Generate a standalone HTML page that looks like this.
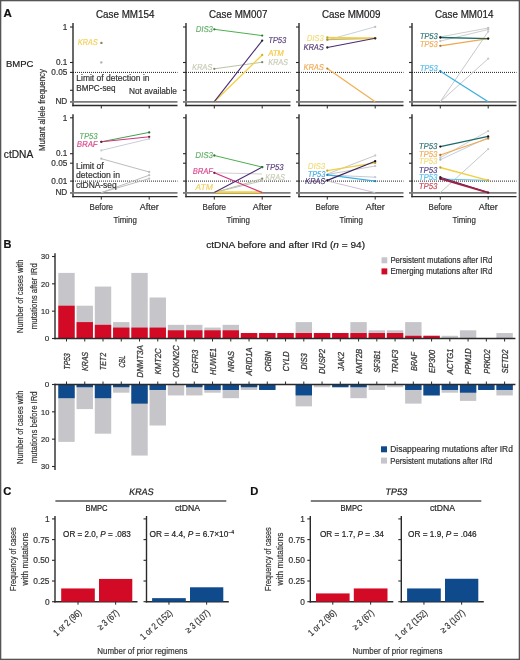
<!DOCTYPE html>
<html><head><meta charset="utf-8">
<style>
html,body{margin:0;padding:0;background:#fff;}
body{width:520px;height:660px;overflow:hidden;position:relative;}
svg{position:absolute;left:0;top:0;font-family:"Liberation Sans",sans-serif;filter:blur(0.35px);}
</style></head><body>
<svg width="520" height="660" viewBox="0 0 520 660">
<rect x="0" y="0" width="520" height="660" fill="#fff"/>
<text x="3.5" y="16.6" font-size="11.5" fill="#111" stroke="#111" stroke-width="0.2" font-weight="bold" >A</text>
<text x="125.2" y="17.5" font-size="10.5" fill="#222" stroke="#222" stroke-width="0.2" text-anchor="middle" textLength="58.5" lengthAdjust="spacingAndGlyphs" >Case MM154</text>
<line x1="73" y1="23" x2="73" y2="106.2" stroke="#2a2a2a" stroke-width="1.4" />
<line x1="70" y1="27" x2="73" y2="27" stroke="#2a2a2a" stroke-width="1.1" />
<line x1="70" y1="62.5" x2="73" y2="62.5" stroke="#2a2a2a" stroke-width="1.1" />
<line x1="70" y1="72.4" x2="73" y2="72.4" stroke="#2a2a2a" stroke-width="1.1" />
<line x1="70" y1="90.3" x2="73" y2="90.3" stroke="#2a2a2a" stroke-width="1.1" />
<line x1="70" y1="101.7" x2="73" y2="101.7" stroke="#2a2a2a" stroke-width="1.1" />
<line x1="73" y1="72.4" x2="177.5" y2="72.4" stroke="#222" stroke-width="1" stroke-dasharray="1 1"/>
<line x1="70" y1="101.9" x2="177.5" y2="101.9" stroke="#7c7c7c" stroke-width="1.6" />
<line x1="72.3" y1="105.5" x2="177.5" y2="105.5" stroke="#2a2a2a" stroke-width="1.4" />
<line x1="101.3" y1="105.5" x2="101.3" y2="108.5" stroke="#2a2a2a" stroke-width="1" />
<line x1="149.2" y1="105.5" x2="149.2" y2="108.5" stroke="#2a2a2a" stroke-width="1" />
<text x="67.3" y="29.7" font-size="8.21" fill="#333" stroke="#333" stroke-width="0.2" text-anchor="end" >1</text>
<text x="67.3" y="65.2" font-size="8.21" fill="#333" stroke="#333" stroke-width="0.2" text-anchor="end" >0.1</text>
<text x="67.3" y="75.10000000000001" font-size="8.21" fill="#333" stroke="#333" stroke-width="0.2" text-anchor="end" >0.05</text>
<text x="67.3" y="104.4" font-size="8.21" fill="#333" stroke="#333" stroke-width="0.2" text-anchor="end" >ND</text>
<line x1="73" y1="114.2" x2="73" y2="197.29999999999998" stroke="#2a2a2a" stroke-width="1.4" />
<line x1="70" y1="117.8" x2="73" y2="117.8" stroke="#2a2a2a" stroke-width="1.1" />
<line x1="70" y1="153.7" x2="73" y2="153.7" stroke="#2a2a2a" stroke-width="1.1" />
<line x1="70" y1="163.2" x2="73" y2="163.2" stroke="#2a2a2a" stroke-width="1.1" />
<line x1="70" y1="181.1" x2="73" y2="181.1" stroke="#2a2a2a" stroke-width="1.1" />
<line x1="70" y1="192.7" x2="73" y2="192.7" stroke="#2a2a2a" stroke-width="1.1" />
<line x1="73" y1="181.1" x2="177.5" y2="181.1" stroke="#222" stroke-width="1" stroke-dasharray="1 1"/>
<line x1="70" y1="192.89999999999998" x2="177.5" y2="192.89999999999998" stroke="#7c7c7c" stroke-width="1.6" />
<line x1="72.3" y1="196.6" x2="177.5" y2="196.6" stroke="#2a2a2a" stroke-width="1.4" />
<line x1="101.3" y1="196.6" x2="101.3" y2="199.6" stroke="#2a2a2a" stroke-width="1" />
<line x1="149.2" y1="196.6" x2="149.2" y2="199.6" stroke="#2a2a2a" stroke-width="1" />
<text x="67.3" y="120.5" font-size="8.21" fill="#333" stroke="#333" stroke-width="0.2" text-anchor="end" >1</text>
<text x="67.3" y="156.39999999999998" font-size="8.21" fill="#333" stroke="#333" stroke-width="0.2" text-anchor="end" >0.1</text>
<text x="67.3" y="165.89999999999998" font-size="8.21" fill="#333" stroke="#333" stroke-width="0.2" text-anchor="end" >0.05</text>
<text x="67.3" y="183.79999999999998" font-size="8.21" fill="#333" stroke="#333" stroke-width="0.2" text-anchor="end" >0.01</text>
<text x="67.3" y="195.39999999999998" font-size="8.21" fill="#333" stroke="#333" stroke-width="0.2" text-anchor="end" >ND</text>
<text x="101.3" y="209.7" font-size="8.19" fill="#333" stroke="#333" stroke-width="0.2" text-anchor="middle" textLength="23.4" lengthAdjust="spacingAndGlyphs" >Before</text>
<text x="149.2" y="209.7" font-size="8.19" fill="#333" stroke="#333" stroke-width="0.2" text-anchor="middle" textLength="19" lengthAdjust="spacingAndGlyphs" >After</text>
<text x="125.2" y="222.8" font-size="9.03" fill="#333" stroke="#333" stroke-width="0.2" text-anchor="middle" textLength="23.4" lengthAdjust="spacingAndGlyphs" >Timing</text>
<text x="238.2" y="17.5" font-size="10.5" fill="#222" stroke="#222" stroke-width="0.2" text-anchor="middle" textLength="58.5" lengthAdjust="spacingAndGlyphs" >Case MM007</text>
<line x1="186" y1="23" x2="186" y2="106.2" stroke="#2a2a2a" stroke-width="1.4" />
<line x1="183" y1="27" x2="186" y2="27" stroke="#2a2a2a" stroke-width="1.1" />
<line x1="183" y1="62.5" x2="186" y2="62.5" stroke="#2a2a2a" stroke-width="1.1" />
<line x1="183" y1="72.4" x2="186" y2="72.4" stroke="#2a2a2a" stroke-width="1.1" />
<line x1="183" y1="90.3" x2="186" y2="90.3" stroke="#2a2a2a" stroke-width="1.1" />
<line x1="183" y1="101.7" x2="186" y2="101.7" stroke="#2a2a2a" stroke-width="1.1" />
<line x1="186" y1="72.4" x2="290.5" y2="72.4" stroke="#222" stroke-width="1" stroke-dasharray="1 1"/>
<line x1="183" y1="101.9" x2="290.5" y2="101.9" stroke="#7c7c7c" stroke-width="1.6" />
<line x1="185.3" y1="105.5" x2="290.5" y2="105.5" stroke="#2a2a2a" stroke-width="1.4" />
<line x1="214.3" y1="105.5" x2="214.3" y2="108.5" stroke="#2a2a2a" stroke-width="1" />
<line x1="262.2" y1="105.5" x2="262.2" y2="108.5" stroke="#2a2a2a" stroke-width="1" />
<line x1="186" y1="114.2" x2="186" y2="197.29999999999998" stroke="#2a2a2a" stroke-width="1.4" />
<line x1="183" y1="117.8" x2="186" y2="117.8" stroke="#2a2a2a" stroke-width="1.1" />
<line x1="183" y1="153.7" x2="186" y2="153.7" stroke="#2a2a2a" stroke-width="1.1" />
<line x1="183" y1="163.2" x2="186" y2="163.2" stroke="#2a2a2a" stroke-width="1.1" />
<line x1="183" y1="181.1" x2="186" y2="181.1" stroke="#2a2a2a" stroke-width="1.1" />
<line x1="183" y1="192.7" x2="186" y2="192.7" stroke="#2a2a2a" stroke-width="1.1" />
<line x1="186" y1="181.1" x2="290.5" y2="181.1" stroke="#222" stroke-width="1" stroke-dasharray="1 1"/>
<line x1="183" y1="192.89999999999998" x2="290.5" y2="192.89999999999998" stroke="#7c7c7c" stroke-width="1.6" />
<line x1="185.3" y1="196.6" x2="290.5" y2="196.6" stroke="#2a2a2a" stroke-width="1.4" />
<line x1="214.3" y1="196.6" x2="214.3" y2="199.6" stroke="#2a2a2a" stroke-width="1" />
<line x1="262.2" y1="196.6" x2="262.2" y2="199.6" stroke="#2a2a2a" stroke-width="1" />
<text x="214.3" y="209.7" font-size="8.19" fill="#333" stroke="#333" stroke-width="0.2" text-anchor="middle" textLength="23.4" lengthAdjust="spacingAndGlyphs" >Before</text>
<text x="262.2" y="209.7" font-size="8.19" fill="#333" stroke="#333" stroke-width="0.2" text-anchor="middle" textLength="19" lengthAdjust="spacingAndGlyphs" >After</text>
<text x="238.2" y="222.8" font-size="9.03" fill="#333" stroke="#333" stroke-width="0.2" text-anchor="middle" textLength="23.4" lengthAdjust="spacingAndGlyphs" >Timing</text>
<text x="351.2" y="17.5" font-size="10.5" fill="#222" stroke="#222" stroke-width="0.2" text-anchor="middle" textLength="58.5" lengthAdjust="spacingAndGlyphs" >Case MM009</text>
<line x1="299" y1="23" x2="299" y2="106.2" stroke="#2a2a2a" stroke-width="1.4" />
<line x1="296" y1="27" x2="299" y2="27" stroke="#2a2a2a" stroke-width="1.1" />
<line x1="296" y1="62.5" x2="299" y2="62.5" stroke="#2a2a2a" stroke-width="1.1" />
<line x1="296" y1="72.4" x2="299" y2="72.4" stroke="#2a2a2a" stroke-width="1.1" />
<line x1="296" y1="90.3" x2="299" y2="90.3" stroke="#2a2a2a" stroke-width="1.1" />
<line x1="296" y1="101.7" x2="299" y2="101.7" stroke="#2a2a2a" stroke-width="1.1" />
<line x1="299" y1="72.4" x2="403.5" y2="72.4" stroke="#222" stroke-width="1" stroke-dasharray="1 1"/>
<line x1="296" y1="101.9" x2="403.5" y2="101.9" stroke="#7c7c7c" stroke-width="1.6" />
<line x1="298.3" y1="105.5" x2="403.5" y2="105.5" stroke="#2a2a2a" stroke-width="1.4" />
<line x1="327.3" y1="105.5" x2="327.3" y2="108.5" stroke="#2a2a2a" stroke-width="1" />
<line x1="375.2" y1="105.5" x2="375.2" y2="108.5" stroke="#2a2a2a" stroke-width="1" />
<line x1="299" y1="114.2" x2="299" y2="197.29999999999998" stroke="#2a2a2a" stroke-width="1.4" />
<line x1="296" y1="117.8" x2="299" y2="117.8" stroke="#2a2a2a" stroke-width="1.1" />
<line x1="296" y1="153.7" x2="299" y2="153.7" stroke="#2a2a2a" stroke-width="1.1" />
<line x1="296" y1="163.2" x2="299" y2="163.2" stroke="#2a2a2a" stroke-width="1.1" />
<line x1="296" y1="181.1" x2="299" y2="181.1" stroke="#2a2a2a" stroke-width="1.1" />
<line x1="296" y1="192.7" x2="299" y2="192.7" stroke="#2a2a2a" stroke-width="1.1" />
<line x1="299" y1="181.1" x2="403.5" y2="181.1" stroke="#222" stroke-width="1" stroke-dasharray="1 1"/>
<line x1="296" y1="192.89999999999998" x2="403.5" y2="192.89999999999998" stroke="#7c7c7c" stroke-width="1.6" />
<line x1="298.3" y1="196.6" x2="403.5" y2="196.6" stroke="#2a2a2a" stroke-width="1.4" />
<line x1="327.3" y1="196.6" x2="327.3" y2="199.6" stroke="#2a2a2a" stroke-width="1" />
<line x1="375.2" y1="196.6" x2="375.2" y2="199.6" stroke="#2a2a2a" stroke-width="1" />
<text x="327.3" y="209.7" font-size="8.19" fill="#333" stroke="#333" stroke-width="0.2" text-anchor="middle" textLength="23.4" lengthAdjust="spacingAndGlyphs" >Before</text>
<text x="375.2" y="209.7" font-size="8.19" fill="#333" stroke="#333" stroke-width="0.2" text-anchor="middle" textLength="19" lengthAdjust="spacingAndGlyphs" >After</text>
<text x="351.2" y="222.8" font-size="9.03" fill="#333" stroke="#333" stroke-width="0.2" text-anchor="middle" textLength="23.4" lengthAdjust="spacingAndGlyphs" >Timing</text>
<text x="464.2" y="17.5" font-size="10.5" fill="#222" stroke="#222" stroke-width="0.2" text-anchor="middle" textLength="58.5" lengthAdjust="spacingAndGlyphs" >Case MM014</text>
<line x1="412" y1="23" x2="412" y2="106.2" stroke="#2a2a2a" stroke-width="1.4" />
<line x1="409" y1="27" x2="412" y2="27" stroke="#2a2a2a" stroke-width="1.1" />
<line x1="409" y1="62.5" x2="412" y2="62.5" stroke="#2a2a2a" stroke-width="1.1" />
<line x1="409" y1="72.4" x2="412" y2="72.4" stroke="#2a2a2a" stroke-width="1.1" />
<line x1="409" y1="90.3" x2="412" y2="90.3" stroke="#2a2a2a" stroke-width="1.1" />
<line x1="409" y1="101.7" x2="412" y2="101.7" stroke="#2a2a2a" stroke-width="1.1" />
<line x1="412" y1="72.4" x2="516.5" y2="72.4" stroke="#222" stroke-width="1" stroke-dasharray="1 1"/>
<line x1="409" y1="101.9" x2="516.5" y2="101.9" stroke="#7c7c7c" stroke-width="1.6" />
<line x1="411.3" y1="105.5" x2="516.5" y2="105.5" stroke="#2a2a2a" stroke-width="1.4" />
<line x1="440.3" y1="105.5" x2="440.3" y2="108.5" stroke="#2a2a2a" stroke-width="1" />
<line x1="488.2" y1="105.5" x2="488.2" y2="108.5" stroke="#2a2a2a" stroke-width="1" />
<line x1="412" y1="114.2" x2="412" y2="197.29999999999998" stroke="#2a2a2a" stroke-width="1.4" />
<line x1="409" y1="117.8" x2="412" y2="117.8" stroke="#2a2a2a" stroke-width="1.1" />
<line x1="409" y1="153.7" x2="412" y2="153.7" stroke="#2a2a2a" stroke-width="1.1" />
<line x1="409" y1="163.2" x2="412" y2="163.2" stroke="#2a2a2a" stroke-width="1.1" />
<line x1="409" y1="181.1" x2="412" y2="181.1" stroke="#2a2a2a" stroke-width="1.1" />
<line x1="409" y1="192.7" x2="412" y2="192.7" stroke="#2a2a2a" stroke-width="1.1" />
<line x1="412" y1="181.1" x2="516.5" y2="181.1" stroke="#222" stroke-width="1" stroke-dasharray="1 1"/>
<line x1="409" y1="192.89999999999998" x2="516.5" y2="192.89999999999998" stroke="#7c7c7c" stroke-width="1.6" />
<line x1="411.3" y1="196.6" x2="516.5" y2="196.6" stroke="#2a2a2a" stroke-width="1.4" />
<line x1="440.3" y1="196.6" x2="440.3" y2="199.6" stroke="#2a2a2a" stroke-width="1" />
<line x1="488.2" y1="196.6" x2="488.2" y2="199.6" stroke="#2a2a2a" stroke-width="1" />
<text x="440.3" y="209.7" font-size="8.19" fill="#333" stroke="#333" stroke-width="0.2" text-anchor="middle" textLength="23.4" lengthAdjust="spacingAndGlyphs" >Before</text>
<text x="488.2" y="209.7" font-size="8.19" fill="#333" stroke="#333" stroke-width="0.2" text-anchor="middle" textLength="19" lengthAdjust="spacingAndGlyphs" >After</text>
<text x="464.2" y="222.8" font-size="9.03" fill="#333" stroke="#333" stroke-width="0.2" text-anchor="middle" textLength="23.4" lengthAdjust="spacingAndGlyphs" >Timing</text>
<text x="6" y="66.9" font-size="9.87" fill="#222" stroke="#222" stroke-width="0.2" textLength="27.5" lengthAdjust="spacingAndGlyphs" >BMPC</text>
<text x="3.8" y="158.1" font-size="10.29" fill="#222" stroke="#222" stroke-width="0.2" textLength="29.4" lengthAdjust="spacingAndGlyphs" >ctDNA</text>
<text x="44.6" y="110" font-size="9.24" fill="#333" stroke="#333" stroke-width="0.2" text-anchor="middle" textLength="82" lengthAdjust="spacingAndGlyphs" transform="rotate(-90 44.6 110)" >Mutant allele frequency</text>
<circle cx="101.39999999999999" cy="42.9" r="1.2" fill="#8d8360"/>
<circle cx="101.3" cy="62.4" r="1.2" fill="#b0b0b0"/>
<text x="97.3" y="44.8" font-size="8.51" fill="#f2cf55" stroke="#f2cf55" stroke-width="0.15" text-anchor="end" textLength="19.8" lengthAdjust="spacingAndGlyphs" transform="translate(97.3 44.8) skewX(-9) translate(-97.3 -44.8)" >KRAS</text>
<text x="76.3" y="81.3" font-size="8.72" fill="#333" stroke="#333" stroke-width="0.2" textLength="73.2" lengthAdjust="spacingAndGlyphs" >Limit of detection in</text>
<text x="76.3" y="90.6" font-size="8.72" fill="#333" stroke="#333" stroke-width="0.2" textLength="39.2" lengthAdjust="spacingAndGlyphs" >BMPC-seq</text>
<text x="176.9" y="94" font-size="8.72" fill="#333" stroke="#333" stroke-width="0.2" text-anchor="end" textLength="47.9" lengthAdjust="spacingAndGlyphs" >Not available</text>
<line x1="101.3" y1="150.4" x2="149.2" y2="138.8" stroke="#c9ced6" stroke-width="1.0" />
<circle cx="101.3" cy="150.4" r="1.15" fill="#c9ced6"/>
<circle cx="149.2" cy="138.8" r="1.15" fill="#c9ced6"/>
<line x1="101.3" y1="158.7" x2="149.2" y2="172" stroke="#bdbdbd" stroke-width="1.0" />
<circle cx="101.3" cy="158.7" r="1.15" fill="#bdbdbd"/>
<circle cx="149.2" cy="172" r="1.15" fill="#bdbdbd"/>
<line x1="101.3" y1="192.6" x2="149.2" y2="175.2" stroke="#bdbdbd" stroke-width="1.0" />
<circle cx="149.2" cy="175.2" r="1.15" fill="#bdbdbd"/>
<line x1="101.3" y1="192.6" x2="149.2" y2="178.6" stroke="#bdbdbd" stroke-width="1.0" />
<circle cx="149.2" cy="178.6" r="1.15" fill="#bdbdbd"/>
<line x1="101.3" y1="141.8" x2="149.2" y2="132.4" stroke="#3fa34d" stroke-width="1.0" />
<circle cx="101.3" cy="141.8" r="1.15" fill="#1e6b2a"/>
<circle cx="149.2" cy="132.4" r="1.15" fill="#1e6b2a"/>
<line x1="101.3" y1="141.8" x2="149.2" y2="136.8" stroke="#d6307a" stroke-width="1.0" />
<circle cx="101.3" cy="141.8" r="1.15" fill="#7a1a40"/>
<circle cx="149.2" cy="136.8" r="1.15" fill="#7a1a40"/>
<text x="97.3" y="139.2" font-size="8.51" fill="#5aad5e" stroke="#5aad5e" stroke-width="0.15" text-anchor="end" textLength="18.3" lengthAdjust="spacingAndGlyphs" transform="translate(97.3 139.2) skewX(-9) translate(-97.3 -139.2)" >TP53</text>
<text x="97.3" y="146.6" font-size="8.51" fill="#d8408a" stroke="#d8408a" stroke-width="0.15" text-anchor="end" textLength="20.7" lengthAdjust="spacingAndGlyphs" transform="translate(97.3 146.6) skewX(-9) translate(-97.3 -146.6)" >BRAF</text>
<text x="76" y="168.6" font-size="8.72" fill="#333" stroke="#333" stroke-width="0.2" textLength="27.7" lengthAdjust="spacingAndGlyphs" >Limit of</text>
<text x="76" y="177.8" font-size="8.72" fill="#333" stroke="#333" stroke-width="0.2" textLength="44" lengthAdjust="spacingAndGlyphs" >detection in</text>
<text x="76" y="188.1" font-size="8.72" fill="#333" stroke="#333" stroke-width="0.2" textLength="40.7" lengthAdjust="spacingAndGlyphs" >ctDNA-seq</text>
<line x1="214.3" y1="68.8" x2="262.2" y2="62.2" stroke="#b9c2a4" stroke-width="1.0" />
<circle cx="214.3" cy="68.8" r="1.15" fill="#7d8a6a"/>
<circle cx="262.2" cy="62.2" r="1.15" fill="#7d8a6a"/>
<line x1="214.3" y1="101.7" x2="262.2" y2="55" stroke="#f4cf3a" stroke-width="1.2" />
<circle cx="262.2" cy="55" r="1.15" fill="#d8b020"/>
<line x1="214.3" y1="101.7" x2="262.2" y2="40.6" stroke="#4a2c72" stroke-width="1.1" />
<circle cx="262.2" cy="40.6" r="1.15" fill="#222"/>
<line x1="214.3" y1="29.3" x2="262.2" y2="35.6" stroke="#4caf50" stroke-width="1.0" />
<circle cx="214.3" cy="29.3" r="1.15" fill="#2a7a30"/>
<circle cx="262.2" cy="35.6" r="1.15" fill="#2a7a30"/>
<text x="212.5" y="31.8" font-size="8.51" fill="#62ad66" stroke="#62ad66" stroke-width="0.15" text-anchor="end" textLength="17" lengthAdjust="spacingAndGlyphs" transform="translate(212.5 31.8) skewX(-9) translate(-212.5 -31.8)" >DIS3</text>
<text x="212" y="70.2" font-size="8.51" fill="#c6cbb4" stroke="#c6cbb4" stroke-width="0.15" text-anchor="end" textLength="20.2" lengthAdjust="spacingAndGlyphs" transform="translate(212 70.2) skewX(-9) translate(-212 -70.2)" >KRAS</text>
<text x="267.9" y="43.4" font-size="8.51" fill="#553a78" stroke="#553a78" stroke-width="0.15" textLength="18.2" lengthAdjust="spacingAndGlyphs" transform="translate(267.9 43.4) skewX(-9) translate(-267.9 -43.4)" >TP53</text>
<text x="267.9" y="56.5" font-size="8.51" fill="#f2c83a" stroke="#f2c83a" stroke-width="0.15" textLength="15.5" lengthAdjust="spacingAndGlyphs" transform="translate(267.9 56.5) skewX(-9) translate(-267.9 -56.5)" >ATM</text>
<text x="267.9" y="64.8" font-size="8.51" fill="#c6cbb4" stroke="#c6cbb4" stroke-width="0.15" textLength="19.6" lengthAdjust="spacingAndGlyphs" transform="translate(267.9 64.8) skewX(-9) translate(-267.9 -64.8)" >KRAS</text>
<line x1="214.3" y1="172.8" x2="262.2" y2="174" stroke="#cfcfcf" stroke-width="1.0" />
<circle cx="214.3" cy="172.8" r="1.15" fill="#cfcfcf"/>
<line x1="214.3" y1="192.6" x2="262.2" y2="180.8" stroke="#c0c0c0" stroke-width="1.0" />
<circle cx="262.2" cy="180.8" r="1.15" fill="#c0c0c0"/>
<line x1="214.3" y1="192.6" x2="262.2" y2="178.7" stroke="#b9c2a4" stroke-width="1.0" />
<circle cx="262.2" cy="178.7" r="1.15" fill="#7d8a6a"/>
<line x1="214.3" y1="192.3" x2="262.2" y2="192.3" stroke="#f4cf3a" stroke-width="2" />
<line x1="214.3" y1="172.8" x2="262.2" y2="192.6" stroke="#d6307a" stroke-width="1.2" />
<circle cx="214.3" cy="172.8" r="1.15" fill="#7a1a40"/>
<line x1="214.3" y1="192.6" x2="262.2" y2="167.1" stroke="#4a2c72" stroke-width="1.1" />
<circle cx="262.2" cy="167.1" r="1.15" fill="#222"/>
<line x1="214.3" y1="155.5" x2="262.2" y2="167.1" stroke="#4caf50" stroke-width="1.0" />
<circle cx="214.3" cy="155.5" r="1.15" fill="#2a7a30"/>
<circle cx="262.2" cy="167.1" r="1.15" fill="#2a7a30"/>
<text x="212.5" y="158" font-size="8.51" fill="#62ad66" stroke="#62ad66" stroke-width="0.15" text-anchor="end" textLength="17.4" lengthAdjust="spacingAndGlyphs" transform="translate(212.5 158) skewX(-9) translate(-212.5 -158)" >DIS3</text>
<text x="212.5" y="174.5" font-size="8.51" fill="#d8408a" stroke="#d8408a" stroke-width="0.15" text-anchor="end" textLength="20" lengthAdjust="spacingAndGlyphs" transform="translate(212.5 174.5) skewX(-9) translate(-212.5 -174.5)" >BRAF</text>
<text x="212.5" y="190.3" font-size="8.51" fill="#f2d060" stroke="#f2d060" stroke-width="0.15" text-anchor="end" textLength="17.4" lengthAdjust="spacingAndGlyphs" transform="translate(212.5 190.3) skewX(-9) translate(-212.5 -190.3)" >ATM</text>
<text x="265" y="170.3" font-size="8.51" fill="#553a78" stroke="#553a78" stroke-width="0.15" textLength="18.3" lengthAdjust="spacingAndGlyphs" transform="translate(265 170.3) skewX(-9) translate(-265 -170.3)" >TP53</text>
<text x="265" y="179.8" font-size="8.51" fill="#c6cbb4" stroke="#c6cbb4" stroke-width="0.15" textLength="19.4" lengthAdjust="spacingAndGlyphs" transform="translate(265 179.8) skewX(-9) translate(-265 -179.8)" >KRAS</text>
<line x1="327.3" y1="40.1" x2="375.2" y2="26.8" stroke="#c8d2dc" stroke-width="1.0" />
<circle cx="327.3" cy="40.1" r="1.15" fill="#bbbbbb"/>
<circle cx="375.2" cy="26.8" r="1.15" fill="#bbbbbb"/>
<line x1="327.3" y1="39.5" x2="375.2" y2="38.3" stroke="#c9b860" stroke-width="1.4" />
<circle cx="327.3" cy="39.5" r="1.15" fill="#a09040"/>
<circle cx="375.2" cy="38.3" r="1.15" fill="#a09040"/>
<line x1="327.3" y1="37.5" x2="375.2" y2="38.3" stroke="#f0d050" stroke-width="1.4" />
<circle cx="327.3" cy="37.5" r="1.15" fill="#c0a030"/>
<circle cx="375.2" cy="38.3" r="1.15" fill="#c0a030"/>
<line x1="327.3" y1="47.5" x2="375.2" y2="38.3" stroke="#4a2c72" stroke-width="1.1" />
<circle cx="327.3" cy="47.5" r="1.15" fill="#222"/>
<circle cx="375.2" cy="38.3" r="1.15" fill="#222"/>
<line x1="327.3" y1="68.6" x2="375.2" y2="101.7" stroke="#f0b050" stroke-width="1.2" />
<circle cx="327.3" cy="68.6" r="1.15" fill="#c08030"/>
<text x="323.4" y="41.1" font-size="8.51" fill="#f0da78" stroke="#f0da78" stroke-width="0.15" text-anchor="end" textLength="16.9" lengthAdjust="spacingAndGlyphs" transform="translate(323.4 41.1) skewX(-9) translate(-323.4 -41.1)" >DIS3</text>
<text x="323.4" y="49.6" font-size="8.51" fill="#4e3472" stroke="#4e3472" stroke-width="0.15" text-anchor="end" textLength="20.1" lengthAdjust="spacingAndGlyphs" transform="translate(323.4 49.6) skewX(-9) translate(-323.4 -49.6)" >KRAS</text>
<text x="323.4" y="70.3" font-size="8.51" fill="#f0a850" stroke="#f0a850" stroke-width="0.15" text-anchor="end" textLength="20.1" lengthAdjust="spacingAndGlyphs" transform="translate(323.4 70.3) skewX(-9) translate(-323.4 -70.3)" >KRAS</text>
<line x1="327.3" y1="174" x2="375.2" y2="155.5" stroke="#c8c8c8" stroke-width="1.0" />
<circle cx="375.2" cy="155.5" r="1.15" fill="#c8c8c8"/>
<line x1="327.3" y1="174.5" x2="375.2" y2="166" stroke="#c8c8c8" stroke-width="1.0" />
<circle cx="375.2" cy="166" r="1.15" fill="#c8c8c8"/>
<line x1="327.3" y1="175" x2="375.2" y2="177.2" stroke="#c8c8d8" stroke-width="1.0" />
<circle cx="375.2" cy="177.2" r="1.15" fill="#c8c8d8"/>
<line x1="327.3" y1="181" x2="375.2" y2="192.6" stroke="#d0c0d8" stroke-width="1.0" />
<line x1="327.3" y1="174.9" x2="375.2" y2="181.2" stroke="#3ab0e0" stroke-width="1.2" />
<circle cx="327.3" cy="174.9" r="1.15" fill="#2080b0"/>
<circle cx="375.2" cy="181.2" r="1.15" fill="#2080b0"/>
<line x1="327.3" y1="170.7" x2="375.2" y2="162.9" stroke="#f0d040" stroke-width="1.2" />
<circle cx="327.3" cy="170.7" r="1.15" fill="#c0a030"/>
<circle cx="375.2" cy="162.9" r="1.15" fill="#c0a030"/>
<line x1="327.3" y1="180.4" x2="375.2" y2="161.2" stroke="#3a2560" stroke-width="1.2" />
<circle cx="327.3" cy="180.4" r="1.15" fill="#111"/>
<circle cx="375.2" cy="161.2" r="1.15" fill="#111"/>
<text x="325" y="169.2" font-size="8.51" fill="#f0da78" stroke="#f0da78" stroke-width="0.15" text-anchor="end" textLength="17.5" lengthAdjust="spacingAndGlyphs" transform="translate(325 169.2) skewX(-9) translate(-325 -169.2)" >DIS3</text>
<text x="325" y="177.2" font-size="8.51" fill="#40a8e0" stroke="#40a8e0" stroke-width="0.15" text-anchor="end" textLength="17.5" lengthAdjust="spacingAndGlyphs" transform="translate(325 177.2) skewX(-9) translate(-325 -177.2)" >TP53</text>
<text x="325" y="184.4" font-size="8.51" fill="#4e3472" stroke="#4e3472" stroke-width="0.15" text-anchor="end" textLength="20.2" lengthAdjust="spacingAndGlyphs" transform="translate(325 184.4) skewX(-9) translate(-325 -184.4)" >KRAS</text>
<line x1="440.3" y1="36.9" x2="488.2" y2="28" stroke="#cfcfcf" stroke-width="1.0" />
<circle cx="440.3" cy="36.9" r="1.15" fill="#c0c0c0"/>
<circle cx="488.2" cy="28" r="1.15" fill="#c0c0c0"/>
<line x1="440.3" y1="41.1" x2="488.2" y2="29.5" stroke="#cfcfcf" stroke-width="1.0" />
<circle cx="440.3" cy="41.1" r="1.15" fill="#c0c0c0"/>
<circle cx="488.2" cy="29.5" r="1.15" fill="#c0c0c0"/>
<line x1="440.3" y1="101.7" x2="488.2" y2="31.6" stroke="#c8c8c8" stroke-width="1.0" />
<circle cx="488.2" cy="31.6" r="1.15" fill="#c8c8c8"/>
<line x1="440.3" y1="101.7" x2="488.2" y2="58.7" stroke="#c8c8c8" stroke-width="1.0" />
<circle cx="488.2" cy="58.7" r="1.15" fill="#c8c8c8"/>
<line x1="440.3" y1="45.8" x2="488.2" y2="38.6" stroke="#f0a850" stroke-width="1.2" />
<circle cx="440.3" cy="45.8" r="1.15" fill="#b07030"/>
<circle cx="488.2" cy="38.6" r="1.15" fill="#b07030"/>
<line x1="440.3" y1="37.5" x2="488.2" y2="38.6" stroke="#1f6b6b" stroke-width="1.3" />
<circle cx="440.3" cy="37.5" r="1.15" fill="#111"/>
<circle cx="488.2" cy="38.6" r="1.15" fill="#111"/>
<line x1="440.3" y1="71.2" x2="488.2" y2="101.7" stroke="#3ab0e0" stroke-width="1.3" />
<circle cx="440.3" cy="71.2" r="1.15" fill="#2080b0"/>
<text x="437.5" y="39" font-size="8.51" fill="#2a6e72" stroke="#2a6e72" stroke-width="0.15" text-anchor="end" textLength="18" lengthAdjust="spacingAndGlyphs" transform="translate(437.5 39) skewX(-9) translate(-437.5 -39)" >TP53</text>
<text x="437.5" y="47.5" font-size="8.51" fill="#f0a850" stroke="#f0a850" stroke-width="0.15" text-anchor="end" textLength="18" lengthAdjust="spacingAndGlyphs" transform="translate(437.5 47.5) skewX(-9) translate(-437.5 -47.5)" >TP53</text>
<text x="437.5" y="70.7" font-size="8.51" fill="#50b8e8" stroke="#50b8e8" stroke-width="0.15" text-anchor="end" textLength="18" lengthAdjust="spacingAndGlyphs" transform="translate(437.5 70.7) skewX(-9) translate(-437.5 -70.7)" >TP53</text>
<line x1="440.3" y1="157.6" x2="488.2" y2="131.1" stroke="#d0d0d0" stroke-width="1.0" />
<circle cx="440.3" cy="157.6" r="1.15" fill="#c0c0c0"/>
<circle cx="488.2" cy="131.1" r="1.15" fill="#c0c0c0"/>
<line x1="440.3" y1="159.7" x2="488.2" y2="137.5" stroke="#c0d0e0" stroke-width="1.0" />
<circle cx="440.3" cy="159.7" r="1.15" fill="#b0b0b0"/>
<circle cx="488.2" cy="137.5" r="1.15" fill="#b0b0b0"/>
<line x1="440.3" y1="192.6" x2="488.2" y2="149.1" stroke="#c8c8c8" stroke-width="1.0" />
<circle cx="488.2" cy="149.1" r="1.15" fill="#c8c8c8"/>
<line x1="440.3" y1="179" x2="488.2" y2="180.4" stroke="#60c0e8" stroke-width="1.0" />
<circle cx="440.3" cy="179" r="1.15" fill="#60c0e8"/>
<line x1="440.3" y1="155" x2="488.2" y2="138.5" stroke="#f0a850" stroke-width="1.2" />
<circle cx="440.3" cy="155" r="1.15" fill="#b07030"/>
<circle cx="488.2" cy="138.5" r="1.15" fill="#b07030"/>
<line x1="440.3" y1="146.6" x2="488.2" y2="136.4" stroke="#1f6b6b" stroke-width="1.3" />
<circle cx="440.3" cy="146.6" r="1.15" fill="#111"/>
<circle cx="488.2" cy="136.4" r="1.15" fill="#111"/>
<line x1="440.3" y1="167.5" x2="488.2" y2="180.4" stroke="#f0d040" stroke-width="1.3" />
<circle cx="440.3" cy="167.5" r="1.15" fill="#c0a030"/>
<circle cx="488.2" cy="180.4" r="1.15" fill="#c0a030"/>
<line x1="440.3" y1="177.2" x2="488.2" y2="192.6" stroke="#4a2c72" stroke-width="1.1" />
<circle cx="440.3" cy="177.2" r="1.15" fill="#222"/>
<line x1="440.3" y1="178.7" x2="488.2" y2="192.6" stroke="#a02040" stroke-width="1.8" />
<circle cx="440.3" cy="178.7" r="1.15" fill="#601020"/>
<circle cx="488.2" cy="192.6" r="1.15" fill="#601020"/>
<text x="437" y="148.7" font-size="8.51" fill="#2a6e72" stroke="#2a6e72" stroke-width="0.15" text-anchor="end" textLength="18.5" lengthAdjust="spacingAndGlyphs" transform="translate(437 148.7) skewX(-9) translate(-437 -148.7)" >TP53</text>
<text x="437" y="157" font-size="8.51" fill="#f0a850" stroke="#f0a850" stroke-width="0.15" text-anchor="end" textLength="18.5" lengthAdjust="spacingAndGlyphs" transform="translate(437 157) skewX(-9) translate(-437 -157)" >TP53</text>
<text x="437" y="164.5" font-size="8.51" fill="#f0da78" stroke="#f0da78" stroke-width="0.15" text-anchor="end" textLength="18.5" lengthAdjust="spacingAndGlyphs" transform="translate(437 164.5) skewX(-9) translate(-437 -164.5)" >TP53</text>
<text x="437" y="173.4" font-size="8.51" fill="#4a3c82" stroke="#4a3c82" stroke-width="0.15" text-anchor="end" textLength="18.5" lengthAdjust="spacingAndGlyphs" transform="translate(437 173.4) skewX(-9) translate(-437 -173.4)" >TP53</text>
<text x="437" y="180.2" font-size="8.51" fill="#50b8e8" stroke="#50b8e8" stroke-width="0.15" text-anchor="end" textLength="18.5" lengthAdjust="spacingAndGlyphs" transform="translate(437 180.2) skewX(-9) translate(-437 -180.2)" >TP53</text>
<text x="437" y="188.6" font-size="8.51" fill="#c84058" stroke="#c84058" stroke-width="0.15" text-anchor="end" textLength="18.5" lengthAdjust="spacingAndGlyphs" transform="translate(437 188.6) skewX(-9) translate(-437 -188.6)" >TP53</text>
<text x="3.5" y="247.6" font-size="11" fill="#111" stroke="#111" stroke-width="0.2" font-weight="bold" >B</text>
<text x="285.6" y="248.1" font-size="9.45" fill="#222" stroke="#222" stroke-width="0.2" text-anchor="middle" textLength="158.8" lengthAdjust="spacingAndGlyphs" >ctDNA before and after IRd (<tspan font-style="italic">n</tspan> = 94)</text>
<rect x="58.30" y="272.91" width="16.40" height="65.59" fill="#c6c6ca"/>
<rect x="58.30" y="305.70" width="16.40" height="32.80" fill="#d20a25"/>
<rect x="58.30" y="384.50" width="16.40" height="57.39" fill="#c6c6ca"/>
<rect x="58.30" y="384.50" width="16.40" height="13.67" fill="#0e4a8c"/>
<line x1="66.5" y1="338.5" x2="66.5" y2="341.5" stroke="#2a2a2a" stroke-width="1" />
<line x1="66.5" y1="381.5" x2="66.5" y2="384.5" stroke="#2a2a2a" stroke-width="1" />
<text x="69.8" y="361.8" font-size="8.72" fill="#333" stroke="#333" stroke-width="0.25" text-anchor="middle" textLength="16.5" lengthAdjust="spacingAndGlyphs" transform="translate(69.80 361.8) rotate(-90) skewX(-9) translate(-69.80 -361.8)" >TP53</text>
<rect x="76.55" y="305.70" width="16.40" height="32.80" fill="#c6c6ca"/>
<rect x="76.55" y="322.10" width="16.40" height="16.40" fill="#d20a25"/>
<rect x="76.55" y="384.50" width="16.40" height="24.60" fill="#c6c6ca"/>
<rect x="76.55" y="384.50" width="16.40" height="2.73" fill="#0e4a8c"/>
<line x1="84.754" y1="338.5" x2="84.754" y2="341.5" stroke="#2a2a2a" stroke-width="1" />
<line x1="84.754" y1="381.5" x2="84.754" y2="384.5" stroke="#2a2a2a" stroke-width="1" />
<text x="88.054" y="361.8" font-size="8.72" fill="#333" stroke="#333" stroke-width="0.25" text-anchor="middle" textLength="19.1" lengthAdjust="spacingAndGlyphs" transform="translate(88.05 361.8) rotate(-90) skewX(-9) translate(-88.05 -361.8)" >KRAS</text>
<rect x="94.81" y="286.57" width="16.40" height="51.93" fill="#c6c6ca"/>
<rect x="94.81" y="324.83" width="16.40" height="13.67" fill="#d20a25"/>
<rect x="94.81" y="384.50" width="16.40" height="49.19" fill="#c6c6ca"/>
<rect x="94.81" y="384.50" width="16.40" height="13.67" fill="#0e4a8c"/>
<line x1="103.00800000000001" y1="338.5" x2="103.00800000000001" y2="341.5" stroke="#2a2a2a" stroke-width="1" />
<line x1="103.00800000000001" y1="381.5" x2="103.00800000000001" y2="384.5" stroke="#2a2a2a" stroke-width="1" />
<text x="106.308" y="361.8" font-size="8.72" fill="#333" stroke="#333" stroke-width="0.25" text-anchor="middle" textLength="17.4" lengthAdjust="spacingAndGlyphs" transform="translate(106.31 361.8) rotate(-90) skewX(-9) translate(-106.31 -361.8)" >TET2</text>
<rect x="113.06" y="322.10" width="16.40" height="16.40" fill="#c6c6ca"/>
<rect x="113.06" y="327.57" width="16.40" height="10.93" fill="#d20a25"/>
<rect x="113.06" y="384.50" width="16.40" height="8.20" fill="#c6c6ca"/>
<rect x="113.06" y="384.50" width="16.40" height="2.73" fill="#0e4a8c"/>
<line x1="121.262" y1="338.5" x2="121.262" y2="341.5" stroke="#2a2a2a" stroke-width="1" />
<line x1="121.262" y1="381.5" x2="121.262" y2="384.5" stroke="#2a2a2a" stroke-width="1" />
<text x="124.562" y="361.8" font-size="8.72" fill="#333" stroke="#333" stroke-width="0.25" text-anchor="middle" textLength="12.2" lengthAdjust="spacingAndGlyphs" transform="translate(124.56 361.8) rotate(-90) skewX(-9) translate(-124.56 -361.8)" >CBL</text>
<rect x="131.32" y="272.91" width="16.40" height="65.59" fill="#c6c6ca"/>
<rect x="131.32" y="327.57" width="16.40" height="10.93" fill="#d20a25"/>
<rect x="131.32" y="384.50" width="16.40" height="71.06" fill="#c6c6ca"/>
<rect x="131.32" y="384.50" width="16.40" height="19.13" fill="#0e4a8c"/>
<line x1="139.51600000000002" y1="338.5" x2="139.51600000000002" y2="341.5" stroke="#2a2a2a" stroke-width="1" />
<line x1="139.51600000000002" y1="381.5" x2="139.51600000000002" y2="384.5" stroke="#2a2a2a" stroke-width="1" />
<text x="142.81600000000003" y="361.8" font-size="8.72" fill="#333" stroke="#333" stroke-width="0.25" text-anchor="middle" textLength="32.5" lengthAdjust="spacingAndGlyphs" transform="translate(142.82 361.8) rotate(-90) skewX(-9) translate(-142.82 -361.8)" >DNMT3A</text>
<rect x="149.57" y="297.50" width="16.40" height="41.00" fill="#c6c6ca"/>
<rect x="149.57" y="327.57" width="16.40" height="10.93" fill="#d20a25"/>
<rect x="149.57" y="384.50" width="16.40" height="41.00" fill="#c6c6ca"/>
<rect x="149.57" y="384.50" width="16.40" height="5.47" fill="#0e4a8c"/>
<line x1="157.77" y1="338.5" x2="157.77" y2="341.5" stroke="#2a2a2a" stroke-width="1" />
<line x1="157.77" y1="381.5" x2="157.77" y2="384.5" stroke="#2a2a2a" stroke-width="1" />
<text x="161.07000000000002" y="361.8" font-size="8.72" fill="#333" stroke="#333" stroke-width="0.25" text-anchor="middle" textLength="26.1" lengthAdjust="spacingAndGlyphs" transform="translate(161.07 361.8) rotate(-90) skewX(-9) translate(-161.07 -361.8)" >KMT2C</text>
<rect x="167.82" y="324.83" width="16.40" height="13.67" fill="#c6c6ca"/>
<rect x="167.82" y="330.30" width="16.40" height="8.20" fill="#d20a25"/>
<rect x="167.82" y="384.50" width="16.40" height="10.93" fill="#c6c6ca"/>
<line x1="176.024" y1="338.5" x2="176.024" y2="341.5" stroke="#2a2a2a" stroke-width="1" />
<line x1="176.024" y1="381.5" x2="176.024" y2="384.5" stroke="#2a2a2a" stroke-width="1" />
<text x="179.324" y="361.8" font-size="8.72" fill="#333" stroke="#333" stroke-width="0.25" text-anchor="middle" textLength="32.3" lengthAdjust="spacingAndGlyphs" transform="translate(179.32 361.8) rotate(-90) skewX(-9) translate(-179.32 -361.8)" >CDKN2C</text>
<rect x="186.08" y="324.83" width="16.40" height="13.67" fill="#c6c6ca"/>
<rect x="186.08" y="330.30" width="16.40" height="8.20" fill="#d20a25"/>
<rect x="186.08" y="384.50" width="16.40" height="10.93" fill="#c6c6ca"/>
<rect x="186.08" y="384.50" width="16.40" height="2.73" fill="#0e4a8c"/>
<line x1="194.27800000000002" y1="338.5" x2="194.27800000000002" y2="341.5" stroke="#2a2a2a" stroke-width="1" />
<line x1="194.27800000000002" y1="381.5" x2="194.27800000000002" y2="384.5" stroke="#2a2a2a" stroke-width="1" />
<text x="197.57800000000003" y="361.8" font-size="8.72" fill="#333" stroke="#333" stroke-width="0.25" text-anchor="middle" textLength="23.4" lengthAdjust="spacingAndGlyphs" transform="translate(197.58 361.8) rotate(-90) skewX(-9) translate(-197.58 -361.8)" >FGFR3</text>
<rect x="204.33" y="327.57" width="16.40" height="10.93" fill="#c6c6ca"/>
<rect x="204.33" y="330.30" width="16.40" height="8.20" fill="#d20a25"/>
<rect x="204.33" y="384.50" width="16.40" height="8.20" fill="#c6c6ca"/>
<rect x="204.33" y="384.50" width="16.40" height="5.47" fill="#0e4a8c"/>
<line x1="212.532" y1="338.5" x2="212.532" y2="341.5" stroke="#2a2a2a" stroke-width="1" />
<line x1="212.532" y1="381.5" x2="212.532" y2="384.5" stroke="#2a2a2a" stroke-width="1" />
<text x="215.83200000000002" y="361.8" font-size="8.72" fill="#333" stroke="#333" stroke-width="0.25" text-anchor="middle" textLength="26.9" lengthAdjust="spacingAndGlyphs" transform="translate(215.83 361.8) rotate(-90) skewX(-9) translate(-215.83 -361.8)" >HUWE1</text>
<rect x="222.59" y="324.83" width="16.40" height="13.67" fill="#c6c6ca"/>
<rect x="222.59" y="330.30" width="16.40" height="8.20" fill="#d20a25"/>
<rect x="222.59" y="384.50" width="16.40" height="13.67" fill="#c6c6ca"/>
<rect x="222.59" y="384.50" width="16.40" height="5.47" fill="#0e4a8c"/>
<line x1="230.786" y1="338.5" x2="230.786" y2="341.5" stroke="#2a2a2a" stroke-width="1" />
<line x1="230.786" y1="381.5" x2="230.786" y2="384.5" stroke="#2a2a2a" stroke-width="1" />
<text x="234.086" y="361.8" font-size="8.72" fill="#333" stroke="#333" stroke-width="0.25" text-anchor="middle" textLength="20.9" lengthAdjust="spacingAndGlyphs" transform="translate(234.09 361.8) rotate(-90) skewX(-9) translate(-234.09 -361.8)" >NRAS</text>
<rect x="240.84" y="333.03" width="16.40" height="5.47" fill="#c6c6ca"/>
<rect x="240.84" y="333.03" width="16.40" height="5.47" fill="#d20a25"/>
<rect x="240.84" y="384.50" width="16.40" height="5.47" fill="#c6c6ca"/>
<rect x="240.84" y="384.50" width="16.40" height="2.73" fill="#0e4a8c"/>
<line x1="249.04000000000002" y1="338.5" x2="249.04000000000002" y2="341.5" stroke="#2a2a2a" stroke-width="1" />
<line x1="249.04000000000002" y1="381.5" x2="249.04000000000002" y2="384.5" stroke="#2a2a2a" stroke-width="1" />
<text x="252.34000000000003" y="361.8" font-size="8.72" fill="#333" stroke="#333" stroke-width="0.25" text-anchor="middle" textLength="28.2" lengthAdjust="spacingAndGlyphs" transform="translate(252.34 361.8) rotate(-90) skewX(-9) translate(-252.34 -361.8)" >ARID1A</text>
<rect x="259.09" y="333.03" width="16.40" height="5.47" fill="#c6c6ca"/>
<rect x="259.09" y="333.03" width="16.40" height="5.47" fill="#d20a25"/>
<rect x="259.09" y="384.50" width="16.40" height="5.47" fill="#c6c6ca"/>
<rect x="259.09" y="384.50" width="16.40" height="5.47" fill="#0e4a8c"/>
<line x1="267.294" y1="338.5" x2="267.294" y2="341.5" stroke="#2a2a2a" stroke-width="1" />
<line x1="267.294" y1="381.5" x2="267.294" y2="384.5" stroke="#2a2a2a" stroke-width="1" />
<text x="270.594" y="361.8" font-size="8.72" fill="#333" stroke="#333" stroke-width="0.25" text-anchor="middle" textLength="20.5" lengthAdjust="spacingAndGlyphs" transform="translate(270.59 361.8) rotate(-90) skewX(-9) translate(-270.59 -361.8)" >CRBN</text>
<rect x="277.35" y="333.03" width="16.40" height="5.47" fill="#c6c6ca"/>
<rect x="277.35" y="333.03" width="16.40" height="5.47" fill="#d20a25"/>
<line x1="285.548" y1="338.5" x2="285.548" y2="341.5" stroke="#2a2a2a" stroke-width="1" />
<line x1="285.548" y1="381.5" x2="285.548" y2="384.5" stroke="#2a2a2a" stroke-width="1" />
<text x="288.848" y="361.8" font-size="8.72" fill="#333" stroke="#333" stroke-width="0.25" text-anchor="middle" textLength="20.0" lengthAdjust="spacingAndGlyphs" transform="translate(288.85 361.8) rotate(-90) skewX(-9) translate(-288.85 -361.8)" >CYLD</text>
<rect x="295.60" y="322.10" width="16.40" height="16.40" fill="#c6c6ca"/>
<rect x="295.60" y="333.03" width="16.40" height="5.47" fill="#d20a25"/>
<rect x="295.60" y="384.50" width="16.40" height="21.86" fill="#c6c6ca"/>
<rect x="295.60" y="384.50" width="16.40" height="10.93" fill="#0e4a8c"/>
<line x1="303.802" y1="338.5" x2="303.802" y2="341.5" stroke="#2a2a2a" stroke-width="1" />
<line x1="303.802" y1="381.5" x2="303.802" y2="384.5" stroke="#2a2a2a" stroke-width="1" />
<text x="307.10200000000003" y="361.8" font-size="8.72" fill="#333" stroke="#333" stroke-width="0.25" text-anchor="middle" textLength="16.5" lengthAdjust="spacingAndGlyphs" transform="translate(307.10 361.8) rotate(-90) skewX(-9) translate(-307.10 -361.8)" >DIS3</text>
<rect x="313.86" y="333.03" width="16.40" height="5.47" fill="#c6c6ca"/>
<rect x="313.86" y="333.03" width="16.40" height="5.47" fill="#d20a25"/>
<rect x="313.86" y="384.50" width="16.40" height="2.73" fill="#c6c6ca"/>
<line x1="322.05600000000004" y1="338.5" x2="322.05600000000004" y2="341.5" stroke="#2a2a2a" stroke-width="1" />
<line x1="322.05600000000004" y1="381.5" x2="322.05600000000004" y2="384.5" stroke="#2a2a2a" stroke-width="1" />
<text x="325.35600000000005" y="361.8" font-size="8.72" fill="#333" stroke="#333" stroke-width="0.25" text-anchor="middle" textLength="25.1" lengthAdjust="spacingAndGlyphs" transform="translate(325.36 361.8) rotate(-90) skewX(-9) translate(-325.36 -361.8)" >DUSP2</text>
<rect x="332.11" y="333.03" width="16.40" height="5.47" fill="#c6c6ca"/>
<rect x="332.11" y="333.03" width="16.40" height="5.47" fill="#d20a25"/>
<rect x="332.11" y="384.50" width="16.40" height="2.73" fill="#c6c6ca"/>
<rect x="332.11" y="384.50" width="16.40" height="2.73" fill="#0e4a8c"/>
<line x1="340.31" y1="338.5" x2="340.31" y2="341.5" stroke="#2a2a2a" stroke-width="1" />
<line x1="340.31" y1="381.5" x2="340.31" y2="384.5" stroke="#2a2a2a" stroke-width="1" />
<text x="343.61" y="361.8" font-size="8.72" fill="#333" stroke="#333" stroke-width="0.25" text-anchor="middle" textLength="19.1" lengthAdjust="spacingAndGlyphs" transform="translate(343.61 361.8) rotate(-90) skewX(-9) translate(-343.61 -361.8)" >JAK2</text>
<rect x="350.36" y="322.10" width="16.40" height="16.40" fill="#c6c6ca"/>
<rect x="350.36" y="333.03" width="16.40" height="5.47" fill="#d20a25"/>
<rect x="350.36" y="384.50" width="16.40" height="13.67" fill="#c6c6ca"/>
<rect x="350.36" y="384.50" width="16.40" height="2.73" fill="#0e4a8c"/>
<line x1="358.564" y1="338.5" x2="358.564" y2="341.5" stroke="#2a2a2a" stroke-width="1" />
<line x1="358.564" y1="381.5" x2="358.564" y2="384.5" stroke="#2a2a2a" stroke-width="1" />
<text x="361.86400000000003" y="361.8" font-size="8.72" fill="#333" stroke="#333" stroke-width="0.25" text-anchor="middle" textLength="25.1" lengthAdjust="spacingAndGlyphs" transform="translate(361.86 361.8) rotate(-90) skewX(-9) translate(-361.86 -361.8)" >KMT2B</text>
<rect x="368.62" y="330.30" width="16.40" height="8.20" fill="#c6c6ca"/>
<rect x="368.62" y="333.03" width="16.40" height="5.47" fill="#d20a25"/>
<rect x="368.62" y="384.50" width="16.40" height="5.47" fill="#c6c6ca"/>
<line x1="376.81800000000004" y1="338.5" x2="376.81800000000004" y2="341.5" stroke="#2a2a2a" stroke-width="1" />
<line x1="376.81800000000004" y1="381.5" x2="376.81800000000004" y2="384.5" stroke="#2a2a2a" stroke-width="1" />
<text x="380.11800000000005" y="361.8" font-size="8.72" fill="#333" stroke="#333" stroke-width="0.25" text-anchor="middle" textLength="22.5" lengthAdjust="spacingAndGlyphs" transform="translate(380.12 361.8) rotate(-90) skewX(-9) translate(-380.12 -361.8)" >SF3B1</text>
<rect x="386.87" y="330.30" width="16.40" height="8.20" fill="#c6c6ca"/>
<rect x="386.87" y="333.03" width="16.40" height="5.47" fill="#d20a25"/>
<rect x="386.87" y="384.50" width="16.40" height="2.73" fill="#c6c6ca"/>
<line x1="395.072" y1="338.5" x2="395.072" y2="341.5" stroke="#2a2a2a" stroke-width="1" />
<line x1="395.072" y1="381.5" x2="395.072" y2="384.5" stroke="#2a2a2a" stroke-width="1" />
<text x="398.372" y="361.8" font-size="8.72" fill="#333" stroke="#333" stroke-width="0.25" text-anchor="middle" textLength="23.4" lengthAdjust="spacingAndGlyphs" transform="translate(398.37 361.8) rotate(-90) skewX(-9) translate(-398.37 -361.8)" >TRAF3</text>
<rect x="405.13" y="322.10" width="16.40" height="16.40" fill="#c6c6ca"/>
<rect x="405.13" y="335.77" width="16.40" height="2.73" fill="#d20a25"/>
<rect x="405.13" y="384.50" width="16.40" height="19.13" fill="#c6c6ca"/>
<rect x="405.13" y="384.50" width="16.40" height="5.47" fill="#0e4a8c"/>
<line x1="413.326" y1="338.5" x2="413.326" y2="341.5" stroke="#2a2a2a" stroke-width="1" />
<line x1="413.326" y1="381.5" x2="413.326" y2="384.5" stroke="#2a2a2a" stroke-width="1" />
<text x="416.62600000000003" y="361.8" font-size="8.72" fill="#333" stroke="#333" stroke-width="0.25" text-anchor="middle" textLength="19.1" lengthAdjust="spacingAndGlyphs" transform="translate(416.63 361.8) rotate(-90) skewX(-9) translate(-416.63 -361.8)" >BRAF</text>
<rect x="423.38" y="335.77" width="16.40" height="2.73" fill="#c6c6ca"/>
<rect x="423.38" y="335.77" width="16.40" height="2.73" fill="#d20a25"/>
<rect x="423.38" y="384.50" width="16.40" height="10.93" fill="#c6c6ca"/>
<rect x="423.38" y="384.50" width="16.40" height="10.93" fill="#0e4a8c"/>
<line x1="431.58000000000004" y1="338.5" x2="431.58000000000004" y2="341.5" stroke="#2a2a2a" stroke-width="1" />
<line x1="431.58000000000004" y1="381.5" x2="431.58000000000004" y2="384.5" stroke="#2a2a2a" stroke-width="1" />
<text x="434.88000000000005" y="361.8" font-size="8.72" fill="#333" stroke="#333" stroke-width="0.25" text-anchor="middle" textLength="23.4" lengthAdjust="spacingAndGlyphs" transform="translate(434.88 361.8) rotate(-90) skewX(-9) translate(-434.88 -361.8)" >EP300</text>
<rect x="441.63" y="335.77" width="16.40" height="2.73" fill="#c6c6ca"/>
<rect x="441.63" y="384.50" width="16.40" height="8.20" fill="#c6c6ca"/>
<rect x="441.63" y="384.50" width="16.40" height="5.47" fill="#0e4a8c"/>
<line x1="449.834" y1="338.5" x2="449.834" y2="341.5" stroke="#2a2a2a" stroke-width="1" />
<line x1="449.834" y1="381.5" x2="449.834" y2="384.5" stroke="#2a2a2a" stroke-width="1" />
<text x="453.134" y="361.8" font-size="8.72" fill="#333" stroke="#333" stroke-width="0.25" text-anchor="middle" textLength="26.0" lengthAdjust="spacingAndGlyphs" transform="translate(453.13 361.8) rotate(-90) skewX(-9) translate(-453.13 -361.8)" >ACTG1</text>
<rect x="459.89" y="330.30" width="16.40" height="8.20" fill="#c6c6ca"/>
<rect x="459.89" y="384.50" width="16.40" height="16.40" fill="#c6c6ca"/>
<rect x="459.89" y="384.50" width="16.40" height="8.20" fill="#0e4a8c"/>
<line x1="468.088" y1="338.5" x2="468.088" y2="341.5" stroke="#2a2a2a" stroke-width="1" />
<line x1="468.088" y1="381.5" x2="468.088" y2="384.5" stroke="#2a2a2a" stroke-width="1" />
<text x="471.38800000000003" y="361.8" font-size="8.72" fill="#333" stroke="#333" stroke-width="0.25" text-anchor="middle" textLength="26.1" lengthAdjust="spacingAndGlyphs" transform="translate(471.39 361.8) rotate(-90) skewX(-9) translate(-471.39 -361.8)" >PPM1D</text>
<rect x="478.14" y="384.50" width="16.40" height="5.47" fill="#c6c6ca"/>
<rect x="478.14" y="384.50" width="16.40" height="5.47" fill="#0e4a8c"/>
<line x1="486.34200000000004" y1="338.5" x2="486.34200000000004" y2="341.5" stroke="#2a2a2a" stroke-width="1" />
<line x1="486.34200000000004" y1="381.5" x2="486.34200000000004" y2="384.5" stroke="#2a2a2a" stroke-width="1" />
<text x="489.64200000000005" y="361.8" font-size="8.72" fill="#333" stroke="#333" stroke-width="0.25" text-anchor="middle" textLength="24.2" lengthAdjust="spacingAndGlyphs" transform="translate(489.64 361.8) rotate(-90) skewX(-9) translate(-489.64 -361.8)" >PRKD2</text>
<rect x="496.40" y="333.03" width="16.40" height="5.47" fill="#c6c6ca"/>
<rect x="496.40" y="384.50" width="16.40" height="10.93" fill="#c6c6ca"/>
<rect x="496.40" y="384.50" width="16.40" height="5.47" fill="#0e4a8c"/>
<line x1="504.596" y1="338.5" x2="504.596" y2="341.5" stroke="#2a2a2a" stroke-width="1" />
<line x1="504.596" y1="381.5" x2="504.596" y2="384.5" stroke="#2a2a2a" stroke-width="1" />
<text x="507.896" y="361.8" font-size="8.72" fill="#333" stroke="#333" stroke-width="0.25" text-anchor="middle" textLength="23.8" lengthAdjust="spacingAndGlyphs" transform="translate(507.90 361.8) rotate(-90) skewX(-9) translate(-507.90 -361.8)" >SETD2</text>
<line x1="55" y1="253.2" x2="55" y2="339.2" stroke="#2a2a2a" stroke-width="1.4" />
<line x1="54.3" y1="338.5" x2="515.4" y2="338.5" stroke="#2a2a2a" stroke-width="1.5" />
<line x1="52" y1="338.5" x2="55" y2="338.5" stroke="#2a2a2a" stroke-width="1.1" />
<text x="49.3" y="341.4" font-size="8.09" fill="#333" stroke="#333" stroke-width="0.2" text-anchor="end" >0</text>
<line x1="52" y1="311.17" x2="55" y2="311.17" stroke="#2a2a2a" stroke-width="1.1" />
<text x="49.3" y="314.07" font-size="8.09" fill="#333" stroke="#333" stroke-width="0.2" text-anchor="end" textLength="8.3" lengthAdjust="spacingAndGlyphs" >10</text>
<line x1="52" y1="283.84" x2="55" y2="283.84" stroke="#2a2a2a" stroke-width="1.1" />
<text x="49.3" y="286.73999999999995" font-size="8.09" fill="#333" stroke="#333" stroke-width="0.2" text-anchor="end" textLength="8.3" lengthAdjust="spacingAndGlyphs" >20</text>
<line x1="52" y1="256.51" x2="55" y2="256.51" stroke="#2a2a2a" stroke-width="1.1" />
<text x="49.3" y="259.40999999999997" font-size="8.09" fill="#333" stroke="#333" stroke-width="0.2" text-anchor="end" textLength="8.3" lengthAdjust="spacingAndGlyphs" >30</text>
<line x1="55" y1="383.8" x2="55" y2="470" stroke="#2a2a2a" stroke-width="1.4" />
<line x1="54.3" y1="384.5" x2="515.4" y2="384.5" stroke="#2a2a2a" stroke-width="1.5" />
<line x1="52" y1="384.5" x2="55" y2="384.5" stroke="#2a2a2a" stroke-width="1.1" />
<text x="49.3" y="387.4" font-size="8.09" fill="#333" stroke="#333" stroke-width="0.2" text-anchor="end" >0</text>
<line x1="52" y1="411.83" x2="55" y2="411.83" stroke="#2a2a2a" stroke-width="1.1" />
<text x="49.3" y="414.72999999999996" font-size="8.09" fill="#333" stroke="#333" stroke-width="0.2" text-anchor="end" textLength="8.3" lengthAdjust="spacingAndGlyphs" >10</text>
<line x1="52" y1="439.16" x2="55" y2="439.16" stroke="#2a2a2a" stroke-width="1.1" />
<text x="49.3" y="442.06" font-size="8.09" fill="#333" stroke="#333" stroke-width="0.2" text-anchor="end" textLength="8.3" lengthAdjust="spacingAndGlyphs" >20</text>
<line x1="52" y1="466.49" x2="55" y2="466.49" stroke="#2a2a2a" stroke-width="1.1" />
<text x="49.3" y="469.39" font-size="8.09" fill="#333" stroke="#333" stroke-width="0.2" text-anchor="end" textLength="8.3" lengthAdjust="spacingAndGlyphs" >30</text>
<text x="23.4" y="296.2" font-size="9.24" fill="#333" stroke="#333" stroke-width="0.2" text-anchor="middle" textLength="73.5" lengthAdjust="spacingAndGlyphs" transform="rotate(-90 23.4 296.2)" >Number of cases with</text>
<text x="36.9" y="296.2" font-size="9.24" fill="#333" stroke="#333" stroke-width="0.2" text-anchor="middle" textLength="66" lengthAdjust="spacingAndGlyphs" transform="rotate(-90 36.9 296.2)" >mutations after IRd</text>
<text x="23.4" y="427.3" font-size="9.24" fill="#333" stroke="#333" stroke-width="0.2" text-anchor="middle" textLength="73.4" lengthAdjust="spacingAndGlyphs" transform="rotate(-90 23.4 427.3)" >Number of cases with</text>
<text x="36.9" y="427.3" font-size="9.24" fill="#333" stroke="#333" stroke-width="0.2" text-anchor="middle" textLength="72" lengthAdjust="spacingAndGlyphs" transform="rotate(-90 36.9 427.3)" >mutations before IRd</text>
<rect x="381.50" y="257.30" width="5.80" height="6.00" fill="#c6c6ca"/>
<text x="390.4" y="263.2" font-size="8.4" fill="#333" stroke="#333" stroke-width="0.2" textLength="102" lengthAdjust="spacingAndGlyphs" >Persistent mutations after IRd</text>
<rect x="381.50" y="268.40" width="5.80" height="6.00" fill="#d20a25"/>
<text x="390.4" y="274.2" font-size="8.4" fill="#333" stroke="#333" stroke-width="0.2" textLength="102" lengthAdjust="spacingAndGlyphs" >Emerging mutations after IRd</text>
<rect x="381.00" y="446.30" width="6.00" height="6.00" fill="#0e4a8c"/>
<text x="390.3" y="452.3" font-size="8.4" fill="#333" stroke="#333" stroke-width="0.2" textLength="122.5" lengthAdjust="spacingAndGlyphs" >Disappearing mutations after IRd</text>
<rect x="381.00" y="457.60" width="6.00" height="6.00" fill="#c6c6ca"/>
<text x="390.3" y="463.5" font-size="8.4" fill="#333" stroke="#333" stroke-width="0.2" textLength="102" lengthAdjust="spacingAndGlyphs" >Persistent mutations after IRd</text>
<text x="3.3" y="495.1" font-size="11.2" fill="#111" stroke="#111" stroke-width="0.2" font-weight="bold" >C</text>
<text x="250.2" y="495.1" font-size="11.2" fill="#111" stroke="#111" stroke-width="0.2" font-weight="bold" >D</text>
<line x1="55.4" y1="501" x2="226.3" y2="501" stroke="#555" stroke-width="1.5" />
<text x="141" y="495" font-size="9.45" fill="#222" stroke="#222" stroke-width="0.2" text-anchor="middle" textLength="24.5" lengthAdjust="spacingAndGlyphs" transform="translate(141 495) skewX(-9) translate(-141 -495)" >KRAS</text>
<text x="96.6" y="511" font-size="9.03" fill="#222" stroke="#222" stroke-width="0.2" text-anchor="middle" textLength="22.1" lengthAdjust="spacingAndGlyphs" >BMPC</text>
<text x="187.5" y="511" font-size="9.03" fill="#222" stroke="#222" stroke-width="0.2" text-anchor="middle" textLength="25" lengthAdjust="spacingAndGlyphs" >ctDNA</text>
<line x1="55" y1="516" x2="55" y2="602.4000000000001" stroke="#2a2a2a" stroke-width="1.4" />
<line x1="54.3" y1="601.7" x2="137.5" y2="601.7" stroke="#2a2a2a" stroke-width="1.5" />
<line x1="52" y1="601.7" x2="55" y2="601.7" stroke="#2a2a2a" stroke-width="1.1" />
<line x1="52" y1="581.0" x2="55" y2="581.0" stroke="#2a2a2a" stroke-width="1.1" />
<line x1="52" y1="560.3000000000001" x2="55" y2="560.3000000000001" stroke="#2a2a2a" stroke-width="1.1" />
<line x1="52" y1="539.6" x2="55" y2="539.6" stroke="#2a2a2a" stroke-width="1.1" />
<line x1="52" y1="518.9000000000001" x2="55" y2="518.9000000000001" stroke="#2a2a2a" stroke-width="1.1" />
<rect x="61.20" y="588.45" width="33.60" height="13.25" fill="#d20a25"/>
<line x1="78.0" y1="601.7" x2="78.0" y2="604.7" stroke="#2a2a2a" stroke-width="1" />
<rect x="99.00" y="578.93" width="33.30" height="22.77" fill="#d20a25"/>
<line x1="115.65" y1="601.7" x2="115.65" y2="604.7" stroke="#2a2a2a" stroke-width="1" />
<text x="63.1" y="537.1" font-size="8.82" fill="#222" stroke="#222" stroke-width="0.2" textLength="67.7" lengthAdjust="spacingAndGlyphs" >OR = 2.0, <tspan font-style="italic">P</tspan> = .083</text>
<line x1="146.5" y1="516" x2="146.5" y2="602.4000000000001" stroke="#2a2a2a" stroke-width="1.4" />
<line x1="145.8" y1="601.7" x2="228.8" y2="601.7" stroke="#2a2a2a" stroke-width="1.5" />
<line x1="143.5" y1="601.7" x2="146.5" y2="601.7" stroke="#2a2a2a" stroke-width="1.1" />
<line x1="143.5" y1="581.0" x2="146.5" y2="581.0" stroke="#2a2a2a" stroke-width="1.1" />
<line x1="143.5" y1="560.3000000000001" x2="146.5" y2="560.3000000000001" stroke="#2a2a2a" stroke-width="1.1" />
<line x1="143.5" y1="539.6" x2="146.5" y2="539.6" stroke="#2a2a2a" stroke-width="1.1" />
<line x1="143.5" y1="518.9000000000001" x2="146.5" y2="518.9000000000001" stroke="#2a2a2a" stroke-width="1.1" />
<rect x="152.10" y="598.14" width="33.70" height="3.56" fill="#0e4a8c"/>
<line x1="168.95" y1="601.7" x2="168.95" y2="604.7" stroke="#2a2a2a" stroke-width="1" />
<rect x="190.00" y="587.29" width="33.30" height="14.41" fill="#0e4a8c"/>
<line x1="206.65" y1="601.7" x2="206.65" y2="604.7" stroke="#2a2a2a" stroke-width="1" />
<text x="149.6" y="537.1" font-size="8.82" fill="#222" stroke="#222" stroke-width="0.2" textLength="84.6" lengthAdjust="spacingAndGlyphs" >OR = 4.4, <tspan font-style="italic">P</tspan> = 6.7×10<tspan dy="-3" font-size="5.5">−4</tspan></text>
<text x="49.5" y="604.6" font-size="8.32" fill="#333" stroke="#333" stroke-width="0.2" text-anchor="end" >0</text>
<text x="49.5" y="583.9" font-size="8.32" fill="#333" stroke="#333" stroke-width="0.2" text-anchor="end" >0.25</text>
<text x="49.5" y="563.2" font-size="8.32" fill="#333" stroke="#333" stroke-width="0.2" text-anchor="end" >0.50</text>
<text x="49.5" y="542.5" font-size="8.32" fill="#333" stroke="#333" stroke-width="0.2" text-anchor="end" >0.75</text>
<text x="49.5" y="521.8000000000001" font-size="8.32" fill="#333" stroke="#333" stroke-width="0.2" text-anchor="end" >1</text>
<text x="16.4" y="559.1" font-size="9.24" fill="#333" stroke="#333" stroke-width="0.2" text-anchor="middle" textLength="63.6" lengthAdjust="spacingAndGlyphs" transform="rotate(-90 16.4 559.1)" >Frequency of cases</text>
<text x="28.4" y="559.1" font-size="9.24" fill="#333" stroke="#333" stroke-width="0.2" text-anchor="middle" textLength="53" lengthAdjust="spacingAndGlyphs" transform="rotate(-90 28.4 559.1)" >with mutations</text>
<line x1="310.8" y1="501" x2="481.3" y2="501" stroke="#555" stroke-width="1.5" />
<text x="396" y="495" font-size="9.45" fill="#222" stroke="#222" stroke-width="0.2" text-anchor="middle" textLength="22" lengthAdjust="spacingAndGlyphs" transform="translate(396 495) skewX(-9) translate(-396 -495)" >TP53</text>
<text x="351.5" y="511" font-size="9.03" fill="#222" stroke="#222" stroke-width="0.2" text-anchor="middle" textLength="22.1" lengthAdjust="spacingAndGlyphs" >BMPC</text>
<text x="442.5" y="511" font-size="9.03" fill="#222" stroke="#222" stroke-width="0.2" text-anchor="middle" textLength="25" lengthAdjust="spacingAndGlyphs" >ctDNA</text>
<line x1="310.3" y1="516" x2="310.3" y2="602.4000000000001" stroke="#2a2a2a" stroke-width="1.4" />
<line x1="309.6" y1="601.7" x2="393.3" y2="601.7" stroke="#2a2a2a" stroke-width="1.5" />
<line x1="307.3" y1="601.7" x2="310.3" y2="601.7" stroke="#2a2a2a" stroke-width="1.1" />
<line x1="307.3" y1="581.0" x2="310.3" y2="581.0" stroke="#2a2a2a" stroke-width="1.1" />
<line x1="307.3" y1="560.3000000000001" x2="310.3" y2="560.3000000000001" stroke="#2a2a2a" stroke-width="1.1" />
<line x1="307.3" y1="539.6" x2="310.3" y2="539.6" stroke="#2a2a2a" stroke-width="1.1" />
<line x1="307.3" y1="518.9000000000001" x2="310.3" y2="518.9000000000001" stroke="#2a2a2a" stroke-width="1.1" />
<rect x="316.00" y="593.42" width="33.60" height="8.28" fill="#d20a25"/>
<line x1="332.8" y1="601.7" x2="332.8" y2="604.7" stroke="#2a2a2a" stroke-width="1" />
<rect x="353.80" y="588.45" width="33.70" height="13.25" fill="#d20a25"/>
<line x1="370.65" y1="601.7" x2="370.65" y2="604.7" stroke="#2a2a2a" stroke-width="1" />
<text x="320" y="537.1" font-size="8.82" fill="#222" stroke="#222" stroke-width="0.2" textLength="63.8" lengthAdjust="spacingAndGlyphs" >OR = 1.7, <tspan font-style="italic">P</tspan> = .34</text>
<line x1="401.3" y1="516" x2="401.3" y2="602.4000000000001" stroke="#2a2a2a" stroke-width="1.4" />
<line x1="400.6" y1="601.7" x2="483.8" y2="601.7" stroke="#2a2a2a" stroke-width="1.5" />
<line x1="398.3" y1="601.7" x2="401.3" y2="601.7" stroke="#2a2a2a" stroke-width="1.1" />
<line x1="398.3" y1="581.0" x2="401.3" y2="581.0" stroke="#2a2a2a" stroke-width="1.1" />
<line x1="398.3" y1="560.3000000000001" x2="401.3" y2="560.3000000000001" stroke="#2a2a2a" stroke-width="1.1" />
<line x1="398.3" y1="539.6" x2="401.3" y2="539.6" stroke="#2a2a2a" stroke-width="1.1" />
<line x1="398.3" y1="518.9000000000001" x2="401.3" y2="518.9000000000001" stroke="#2a2a2a" stroke-width="1.1" />
<rect x="407.10" y="588.45" width="33.70" height="13.25" fill="#0e4a8c"/>
<line x1="423.95000000000005" y1="601.7" x2="423.95000000000005" y2="604.7" stroke="#2a2a2a" stroke-width="1" />
<rect x="445.00" y="578.76" width="33.30" height="22.94" fill="#0e4a8c"/>
<line x1="461.65" y1="601.7" x2="461.65" y2="604.7" stroke="#2a2a2a" stroke-width="1" />
<text x="408.1" y="537.1" font-size="8.82" fill="#222" stroke="#222" stroke-width="0.2" textLength="68.6" lengthAdjust="spacingAndGlyphs" >OR = 1.9, <tspan font-style="italic">P</tspan> = .046</text>
<text x="304.8" y="604.6" font-size="8.32" fill="#333" stroke="#333" stroke-width="0.2" text-anchor="end" >0</text>
<text x="304.8" y="583.9" font-size="8.32" fill="#333" stroke="#333" stroke-width="0.2" text-anchor="end" >0.25</text>
<text x="304.8" y="563.2" font-size="8.32" fill="#333" stroke="#333" stroke-width="0.2" text-anchor="end" >0.50</text>
<text x="304.8" y="542.5" font-size="8.32" fill="#333" stroke="#333" stroke-width="0.2" text-anchor="end" >0.75</text>
<text x="304.8" y="521.8000000000001" font-size="8.32" fill="#333" stroke="#333" stroke-width="0.2" text-anchor="end" >1</text>
<text x="271.5" y="559.1" font-size="9.24" fill="#333" stroke="#333" stroke-width="0.2" text-anchor="middle" textLength="63.6" lengthAdjust="spacingAndGlyphs" transform="rotate(-90 271.5 559.1)" >Frequency of cases</text>
<text x="283.5" y="559.1" font-size="9.24" fill="#333" stroke="#333" stroke-width="0.2" text-anchor="middle" textLength="53" lengthAdjust="spacingAndGlyphs" transform="rotate(-90 283.5 559.1)" >with mutations</text>
<text x="82.0" y="613.7" font-size="9.29" fill="#333" stroke="#333" stroke-width="0.2" text-anchor="end" textLength="34" lengthAdjust="spacingAndGlyphs" transform="rotate(-42 82.0 613.7)" >1 or 2 (96)</text>
<text x="119.65" y="613.7" font-size="9.29" fill="#333" stroke="#333" stroke-width="0.2" text-anchor="end" textLength="25.3" lengthAdjust="spacingAndGlyphs" transform="rotate(-42 119.65 613.7)" >≥ 3 (67)</text>
<text x="172.95" y="613.7" font-size="9.29" fill="#333" stroke="#333" stroke-width="0.2" text-anchor="end" textLength="39.5" lengthAdjust="spacingAndGlyphs" transform="rotate(-42 172.95 613.7)" >1 or 2 (152)</text>
<text x="210.65" y="613.7" font-size="9.29" fill="#333" stroke="#333" stroke-width="0.2" text-anchor="end" textLength="29.7" lengthAdjust="spacingAndGlyphs" transform="rotate(-42 210.65 613.7)" >≥ 3 (107)</text>
<text x="336.8" y="613.7" font-size="9.29" fill="#333" stroke="#333" stroke-width="0.2" text-anchor="end" textLength="34" lengthAdjust="spacingAndGlyphs" transform="rotate(-42 336.8 613.7)" >1 or 2 (96)</text>
<text x="374.65" y="613.7" font-size="9.29" fill="#333" stroke="#333" stroke-width="0.2" text-anchor="end" textLength="25.3" lengthAdjust="spacingAndGlyphs" transform="rotate(-42 374.65 613.7)" >≥ 3 (67)</text>
<text x="427.95000000000005" y="613.7" font-size="9.29" fill="#333" stroke="#333" stroke-width="0.2" text-anchor="end" textLength="39.5" lengthAdjust="spacingAndGlyphs" transform="rotate(-42 427.95000000000005 613.7)" >1 or 2 (152)</text>
<text x="465.65" y="613.7" font-size="9.29" fill="#333" stroke="#333" stroke-width="0.2" text-anchor="end" textLength="29.7" lengthAdjust="spacingAndGlyphs" transform="rotate(-42 465.65 613.7)" >≥ 3 (107)</text>
<text x="142.4" y="653.8" font-size="9.66" fill="#333" stroke="#333" stroke-width="0.2" text-anchor="middle" textLength="90.2" lengthAdjust="spacingAndGlyphs" >Number of prior regimens</text>
<text x="397.5" y="653.8" font-size="9.66" fill="#333" stroke="#333" stroke-width="0.2" text-anchor="middle" textLength="90" lengthAdjust="spacingAndGlyphs" >Number of prior regimens</text>
<rect x="0.6" y="0.6" width="518.8" height="658.8" fill="none" stroke="#555" stroke-width="1.4"/>
</svg>
</body></html>
